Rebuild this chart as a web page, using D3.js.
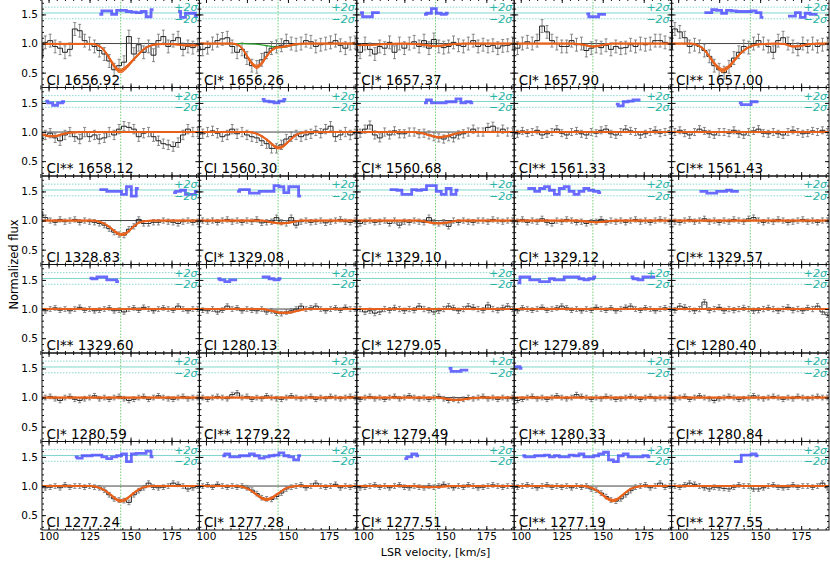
<!DOCTYPE html>
<html><head><meta charset="utf-8">
<script src="https://cdn.jsdelivr.net/npm/d3@7"></script>
<style>body{margin:0;background:#fff}svg{display:block;font-family:"DejaVu Sans",sans-serif}</style>
</head><body><svg id="c" width="830" height="561"></svg>
<script>
// ---------------- DATA ----------------
const lineLabels = [
 "CI 1656.92","CI* 1656.26","CI* 1657.37","CI* 1657.90","CI** 1657.00",
 "CI** 1658.12","CI 1560.30","CI* 1560.68","CI** 1561.33","CI** 1561.43",
 "CI 1328.83","CI* 1329.08","CI* 1329.10","CI* 1329.12","CI** 1329.57",
 "CI** 1329.60","CI 1280.13","CI* 1279.05","CI* 1279.89","CI* 1280.40",
 "CI* 1280.59","CI** 1279.22","CI** 1279.49","CI** 1280.33","CI** 1280.84",
 "CI 1277.24","CI* 1277.28","CI* 1277.51","CI** 1277.19","CI** 1277.55"];
const velocities = [95,98,101,104,107,110,113,116,119,122,125,128,131,134,137,140,143,146,149,152,155,158,161,164,167,170,173,176,179,182,185,188,191];
const xTickValues = [100,125,150,175];
const yTickValues = [0.5,1.0,1.5];
const systemVelocity = 144;
const sigmaLevels = [1.625,1.525,1.425];
const fluxErrors = [0.11,0.11,0.11,0.11,0.11, 0.08,0.08,0.07,0.06,0.06, 0.045,0.045,0.045,0.045,0.045,
  0.04,0.04,0.045,0.04,0.045, 0.04,0.04,0.04,0.04,0.04, 0.04,0.04,0.04,0.04,0.04];
const fluxes = [
 [0.75,1.02,1.05,0.95,0.92,0.85,0.9,1.25,1.22,1.05,1.0,0.95,0.88,0.82,0.7,0.55,0.62,0.68,1.12,0.82,0.98,0.85,0.95,0.8,1.05,1.12,0.95,1.05,1.1,0.9,0.95,0.93,0.97],
 [0.95,0.9,0.93,1.0,1.05,1.08,1.1,0.95,0.85,0.9,0.75,0.62,0.6,0.72,0.85,0.92,0.95,0.97,1.05,1.0,0.98,1.0,1.05,1.03,0.95,0.98,1.0,1.02,1.05,0.97,0.92,1.0,1.02],
 [1.05,0.85,1.0,0.9,0.82,0.95,0.92,1.02,0.85,1.0,0.92,1.0,1.03,0.95,1.05,0.92,1.07,0.95,0.93,0.95,1.02,0.97,0.95,1.0,1.05,0.95,0.98,0.95,0.97,0.92,0.96,0.97,1.0],
 [0.95,0.92,1.0,1.03,1.0,1.05,1.3,1.2,1.05,1.0,0.95,0.95,1.05,0.98,1.0,0.88,0.92,0.95,0.93,0.97,0.9,0.95,0.92,0.93,0.98,0.95,1.0,0.98,1.0,1.05,1.05,1.02,1.0],
 [0.9,1.25,1.2,1.1,0.95,0.98,0.95,0.88,0.78,0.62,0.55,0.5,0.6,0.75,0.85,0.95,0.93,1.0,1.05,1.0,0.95,0.85,1.05,1.1,1.0,0.95,0.9,1.0,0.95,1.0,0.95,0.98,1.0],
 [0.85,0.95,0.98,0.9,0.85,0.95,1.0,0.92,0.88,1.0,0.92,0.95,0.88,0.9,1.0,0.95,1.05,1.1,1.08,1.05,0.92,0.98,1.0,0.92,0.85,0.8,0.78,0.75,0.82,0.95,1.05,1.0,1.0],
 [0.95,0.97,1.0,1.02,0.98,0.92,0.95,1.05,0.97,1.0,0.95,0.92,0.9,0.85,0.8,0.72,0.72,0.78,0.88,0.92,0.95,0.92,0.95,0.97,1.02,0.98,1.05,1.1,0.92,0.95,1.0,0.95,0.97],
 [1.05,0.98,1.05,1.12,0.95,0.9,1.0,0.95,1.02,0.97,0.97,1.0,1.0,0.97,0.98,0.95,0.92,0.9,0.88,0.92,0.9,0.95,0.97,1.0,1.05,1.0,1.0,1.08,1.1,1.0,1.05,1.0,1.0],
 [1.0,0.97,1.02,0.98,1.0,1.03,0.95,0.97,1.0,1.05,0.98,0.95,1.0,1.02,0.97,0.95,1.0,0.98,1.03,1.05,0.97,0.95,1.0,1.05,1.02,1.0,0.95,0.97,1.0,1.03,0.98,1.0,1.02],
 [0.97,1.0,1.03,0.98,0.95,1.0,1.05,1.02,0.97,0.95,1.0,1.0,0.98,1.03,0.97,0.95,1.0,1.02,1.05,0.98,0.97,1.0,0.97,0.95,1.0,1.03,1.0,0.97,0.98,1.02,1.0,1.03,1.0],
 [1.15,1.05,1.0,0.97,1.02,0.98,1.0,1.02,0.97,1.0,0.98,0.97,0.95,0.92,0.86,0.8,0.76,0.75,0.85,0.9,1.02,0.95,0.95,0.97,0.97,1.0,0.98,0.97,0.95,0.98,1.0,0.97,0.98],
 [0.97,1.0,0.98,1.0,0.97,1.0,1.02,0.98,1.0,0.97,1.0,0.98,1.02,0.96,0.97,0.98,1.05,0.97,0.95,1.05,0.92,0.98,1.0,0.97,0.98,1.0,0.96,0.98,1.0,1.02,0.98,0.97,1.0],
 [0.97,0.95,0.98,1.0,0.97,0.98,1.0,0.95,1.0,0.92,0.98,0.97,1.0,0.98,0.97,1.05,0.97,0.95,0.97,0.9,1.0,0.97,1.0,0.98,0.97,1.0,1.0,0.98,1.02,1.0,0.98,1.0,1.0],
 [1.0,0.98,1.02,0.97,1.0,0.98,1.03,0.97,0.95,1.0,0.98,1.02,1.0,0.97,0.98,0.95,0.97,0.98,1.02,0.97,1.0,0.98,1.0,0.97,1.0,1.02,0.98,1.0,0.97,1.0,1.02,1.0,0.98],
 [1.0,0.98,0.97,1.0,1.02,0.98,1.0,1.03,0.98,1.0,0.97,1.0,0.98,1.02,1.0,0.98,1.03,1.05,1.0,0.97,1.0,0.98,1.02,1.0,0.97,0.98,1.0,1.02,0.98,1.0,0.97,1.0,1.0],
 [1.0,0.97,1.0,1.02,0.98,1.0,0.97,1.0,1.03,0.98,1.0,0.97,0.98,1.0,1.02,0.97,0.98,0.95,1.0,1.02,0.98,1.03,1.0,0.97,1.0,1.02,1.0,0.98,1.05,1.0,0.97,1.0,1.0],
 [1.0,0.98,0.97,1.0,0.95,0.98,1.05,1.0,1.02,0.97,1.0,0.98,0.97,1.0,0.95,0.97,0.93,0.92,0.95,0.97,1.0,1.05,1.0,1.02,1.05,1.0,0.97,1.0,1.02,0.98,1.03,1.0,1.0],
 [0.97,1.0,0.95,0.97,0.93,0.95,1.0,0.98,1.02,1.0,0.97,1.0,0.98,1.05,1.0,0.98,0.95,0.97,1.0,1.05,1.02,0.97,1.0,1.05,1.03,1.0,0.98,1.07,1.0,0.98,1.02,1.05,1.0],
 [1.0,0.97,1.02,1.0,0.98,1.0,1.03,0.98,1.0,1.02,1.05,1.02,0.98,1.0,0.97,1.0,0.98,1.03,1.0,0.98,1.02,0.97,1.0,1.03,1.05,1.0,0.98,1.02,1.0,0.97,1.0,1.02,1.0],
 [1.0,0.98,1.05,1.03,1.0,0.97,1.0,1.12,0.98,1.0,1.03,0.97,1.0,0.98,1.0,1.02,1.0,0.97,0.98,1.0,1.02,1.0,0.97,1.0,1.03,0.98,1.0,0.97,1.02,1.0,1.05,0.95,0.9],
 [0.97,1.0,1.02,0.98,0.95,1.0,1.02,0.97,0.95,0.98,1.0,1.03,0.98,1.0,0.97,1.0,1.02,0.98,0.95,0.97,1.0,1.02,0.97,1.0,1.03,1.0,0.98,0.97,1.0,1.02,0.98,1.0,1.0],
 [0.98,1.0,0.97,1.0,1.02,1.0,0.98,1.05,1.08,1.0,1.02,0.97,1.0,0.98,1.03,1.0,0.98,0.97,1.0,1.03,1.0,0.98,1.0,1.02,0.97,1.0,0.98,1.02,1.0,0.98,1.0,1.02,1.0],
 [1.0,0.97,1.0,1.02,0.98,1.0,0.97,1.0,1.02,0.98,1.0,1.03,1.0,0.98,1.0,0.97,1.0,1.02,0.98,0.95,0.97,0.95,0.97,1.0,0.98,1.0,1.02,0.98,1.0,0.97,1.0,0.98,1.0],
 [0.97,0.95,0.97,1.0,1.02,0.98,1.0,0.97,1.0,1.03,1.0,0.98,1.0,1.05,1.02,1.0,0.97,1.0,0.98,1.02,1.0,0.97,0.98,1.0,1.02,1.0,0.97,1.0,1.02,0.98,1.0,1.0,1.0],
 [1.0,0.98,1.0,1.02,0.97,1.0,1.03,1.0,0.98,0.95,0.98,1.0,1.02,1.0,0.97,0.98,1.0,1.03,1.0,0.98,1.0,1.02,1.0,0.97,1.0,0.98,1.02,1.0,0.98,1.0,1.02,1.0,1.0],
 [0.98,0.97,0.98,1.0,0.97,1.02,0.98,1.0,1.0,0.98,1.0,0.98,0.97,0.93,0.85,0.78,0.76,0.75,0.72,0.85,0.92,0.97,1.05,0.98,0.97,0.98,1.0,1.05,1.03,1.0,0.95,0.97,1.0],
 [0.97,1.0,1.02,0.98,1.03,1.0,0.98,1.0,0.98,1.0,0.97,0.93,0.87,0.8,0.78,0.77,0.82,0.88,0.95,0.98,1.0,1.02,0.97,1.0,1.05,1.0,0.98,1.0,1.03,0.97,1.0,0.98,1.0],
 [1.0,0.97,0.98,1.0,1.02,0.98,1.0,0.97,1.0,1.02,0.98,0.97,1.0,0.98,0.97,1.0,0.98,1.0,1.03,1.0,0.97,1.0,0.98,1.02,1.0,0.97,0.98,1.0,1.02,1.0,0.98,1.0,1.0],
 [1.0,0.98,1.0,1.02,1.0,0.97,1.0,1.02,0.98,1.0,0.98,1.0,0.97,1.0,0.98,1.0,0.95,0.93,0.88,0.82,0.76,0.74,0.78,0.85,0.92,0.98,1.0,1.02,0.97,1.0,1.05,0.98,1.0],
 [0.98,1.0,0.98,1.02,1.05,1.03,1.0,0.97,0.95,0.98,0.97,0.96,0.95,0.98,1.02,1.0,1.0,0.95,0.95,0.97,1.0,1.02,0.98,0.97,0.98,1.02,0.98,1.0,1.0,0.98,1.0,1.05,0.97]
];
// fitted model, as [velocity, flux] knots
const fitKnots = [
 [[90,0.995],[126,0.995],[130,0.97],[133,0.91],[136,0.8],[139,0.66],[142,0.55],[144,0.53],[147,0.58],[151,0.7],[155,0.82],[159,0.92],[163,0.97],[168,0.99],[176,0.99],[183,0.97],[190,0.97],[196,0.98]],
 [[90,1],[116,1],[120,0.97],[123,0.88],[126,0.74],[129,0.63],[131,0.6],[134,0.66],[137,0.78],[140,0.88],[143,0.93],[146,0.94],[150,0.96],[155,0.99],[160,1],[196,1]],
 [[90,0.985],[96,0.975],[104,0.975],[112,0.99],[125,1],[133,0.99],[139,0.97],[144,0.955],[149,0.97],[155,0.99],[162,1],[196,1]],
 [[90,1],[132,1],[138,0.98],[144,0.95],[150,0.975],[156,1],[196,1]],
 [[90,1],[108,1],[112,0.97],[116,0.89],[119,0.78],[122,0.66],[125,0.57],[127,0.54],[130,0.58],[134,0.7],[138,0.83],[142,0.92],[146,0.97],[151,0.99],[160,1],[165,0.99],[170,0.95],[175,0.96],[180,0.99],[186,1],[196,1]],
 [[90,0.97],[96,0.96],[100,0.93],[104,0.93],[108,0.96],[113,0.99],[120,1],[196,1]],
 [[90,1],[126,1],[130,0.98],[134,0.93],[137,0.87],[140,0.8],[142,0.75],[144,0.73],[146,0.74],[149,0.8],[152,0.88],[155,0.95],[159,0.99],[164,1],[196,1]],
 [[90,1],[130,1],[136,0.98],[141,0.94],[146,0.91],[151,0.93],[156,0.97],[162,1],[196,1]],
 [[90,1],[196,1]],
 [[90,1],[196,1]],
 [[90,1],[127,1],[131,0.98],[135,0.93],[138,0.87],[141,0.8],[144,0.76],[146,0.765],[149,0.82],[152,0.9],[155,0.96],[159,0.99],[164,1],[196,1]],
 [[90,1],[134,1],[140,0.97],[146,0.95],[152,0.97],[158,1],[196,1]],
 [[90,1],[134,1],[140,0.97],[146,0.95],[152,0.97],[158,1],[196,1]],
 [[90,1],[134,1],[140,0.985],[146,0.97],[152,0.985],[158,1],[196,1]],
 [[90,1],[196,1]],
 [[90,1],[196,1]],
 [[90,1],[134,1],[140,0.97],[146,0.935],[151,0.94],[156,0.97],[162,1],[196,1]],
 [[90,1],[196,1]],
 [[90,1],[196,1]],
 [[90,1],[196,1]],
 [[90,1],[196,1]],
 [[90,1],[196,1]],
 [[90,1],[145,1],[150,0.98],[155,0.96],[160,0.965],[166,0.99],[172,1],[196,1]],
 [[90,1],[196,1]],
 [[90,1],[196,1]],
 [[90,1],[126,1],[130,0.98],[134,0.93],[137,0.87],[140,0.8],[142,0.76],[144,0.745],[146,0.755],[149,0.81],[152,0.88],[155,0.94],[158,0.98],[163,1],[196,1]],
 [[90,1],[119,1],[123,0.98],[127,0.93],[130,0.87],[133,0.81],[135,0.78],[137,0.77],[139,0.78],[142,0.83],[145,0.89],[148,0.95],[151,0.98],[156,1],[196,1]],
 [[90,1],[130,1],[137,0.985],[142,0.98],[148,0.99],[154,1],[196,1]],
 [[90,1],[138,1],[142,0.98],[146,0.93],[149,0.87],[152,0.8],[154,0.77],[156,0.75],[158,0.76],[161,0.82],[164,0.89],[167,0.95],[170,0.98],[175,1],[196,1]],
 [[90,1],[196,1]]
];
// extra single component (green) where shown
const componentKnots = {1: [[90,1],[122,1],[130,0.99],[136,0.97],[142,0.94],[146,0.93],[150,0.95],[155,0.98],[160,1],[196,1]]};
// residual segments: [start index into velocities, values]
const residuals = [
 [[12,[1.5,1.56,1.56,1.5,1.57,1.57,1.55,1.54,1.53,1.55,1.46,1.58]],[28,[1.55,1.45,1.52,1.52,1.47]]],
 [],
 [[1,[1.53,1.46,1.46,1.53,1.53]],[14,[1.5,1.52,1.6,1.52,1.5,1.52]]],
 [[15,[1.51,1.46,1.46,1.5,1.5]]],
 [[7,[1.53,1.53,1.58,1.57,1.52,1.57,1.56,1.55,1.55,1.55,1.56,1.53,1.45]],[24,[1.47,1.47,1.53,1.45,1.52,1.5,1.5]]],
 [[1,[1.53,1.5,1.46,1.5,1.52]]],
 [[13,[1.56,1.53,1.52,1.5,1.53,1.56]]],
 [[14,[1.5,1.55,1.5,1.5,1.5,1.52,1.52,1.57,1.5,1.52,1.5]]],
 [[21,[1.48,1.45,1.52,1.53,1.55,1.55]]],
 [[14,[1.5,1.47,1.47,1.52,1.52]]],
 [[12,[1.53,1.53,1.5,1.5,1.5,1.45,1.58,1.42,1.55]],[27,[1.48,1.5,1.52,1.45,1.45,1.5]]],
 [[8,[1.5,1.53,1.53,1.47,1.47,1.5,1.5,1.5,1.6,1.58,1.48,1.58,1.58,1.42]]],
 [[7,[1.53,1.53,1.52,1.45,1.45,1.53,1.52,1.53,1.6,1.6,1.5,1.45,1.55,1.45,1.52]]],
 [[3,[1.55,1.55,1.5,1.55,1.58,1.52,1.45,1.55,1.58,1.5,1.45,1.5,1.55,1.52,1.5,1.48]]],
 [[6,[1.5,1.5,1.47,1.47,1.5,1.5,1.52,1.5,1.5]]],
 [[10,[1.53,1.52,1.55,1.55,1.5,1.5,1.47]]],
 [[4,[1.52,1.5,1.47,1.5,1.5]],[13,[1.55,1.55,1.52,1.5,1.52]]],
 [],
 [[1,[1.45,1.55,1.55,1.5,1.5,1.47,1.47,1.52,1.5,1.5,1.55,1.55,1.55,1.52,1.5,1.52,1.55]],[24,[1.55,1.52,1.5,1.55,1.55,1.55]]],
 [],
 [],
 [],
 [[19,[1.5,1.45,1.45,1.47,1.47]]],
 [[0,[1.53,1.53,1.5]]],
 [],
 [[7,[1.5,1.48,1.52,1.52,1.53,1.53,1.5,1.47,1.5,1.52,1.55,1.42,1.55,1.56,1.56,1.6,1.5]]],
 [[5,[1.52,1.55,1.5,1.5,1.52,1.52,1.55,1.52,1.48,1.5,1.52,1.53,1.57,1.52,1.5,1.45,1.52]]],
 [[10,[1.47,1.5,1.55,1.52]]],
 [[2,[1.52,1.5,1.5,1.52,1.52,1.53,1.5,1.52,1.5,1.5,1.53,1.52,1.55,1.5,1.5,1.52,1.55,1.58,1.45,1.42,1.52,1.55,1.5,1.5,1.5,1.52,1.5]]],
 [[13,[1.42,1.42,1.53,1.53,1.55,1.52]]]
];

// ---------------- LAYOUT ----------------
const colLeft0 = 42, colW = 157.4, rowTop0 = -1, rowH = 88.5;
const xDomain = [96,192], yDomain = [0.245,1.765];
const svg = d3.select('#c');
const defs = svg.append('defs');
const x = d3.scaleLinear().domain(xDomain).range([0,colW]);
const y = d3.scaleLinear().domain(yDomain).range([rowH,0]);
const xMinor = d3.range(95,195,5), yMinor = d3.range(0.3,1.75,0.1);

const stepLine = d3.line().x(d=>x(d[0])).y(d=>y(d[1])).curve(d3.curveStep);
const smooth = d3.line().x(d=>x(d[0])).y(d=>y(d[1])).curve(d3.curveMonotoneX);
const band = d3.area().x(d=>x(d[0]))
  .y0(d=>y(d[1]-0.008-0.05*(1-d[1]))).y1(d=>y(d[1]+0.008+0.05*(1-d[1]))).curve(d3.curveMonotoneX);

lineLabels.forEach((lab,p)=>{
  const r = Math.floor(p/5), c = p%5;
  const x0 = colLeft0 + c*colW, y0 = rowTop0 + r*rowH;
  defs.append('clipPath').attr('id','cp'+p).append('rect').attr('width',colW).attr('height',rowH);
  const g = svg.append('g').attr('transform',`translate(${x0},${y0})`);
  const pl = g.append('g').attr('clip-path',`url(#cp${p})`);

  // sigma guide lines
  sigmaLevels.forEach((lv,k)=>{
    pl.append('line').attr('x1',0).attr('x2',colW).attr('y1',y(lv)).attr('y2',y(lv))
      .attr('stroke', k===1 ? '#7fd6cc' : '#8ad9d0').attr('stroke-width',1)
      .attr('stroke-dasharray', k===1 ? null : '1.5,1.5');
  });
  // systemic velocity
  pl.append('line').attr('x1',x(systemVelocity)).attr('x2',x(systemVelocity)).attr('y1',0).attr('y2',rowH)
    .attr('stroke','#66cc66').attr('stroke-width',0.9).attr('stroke-dasharray','1.5,1.5');
  // continuum
  pl.append('line').attr('x1',0).attr('x2',colW).attr('y1',y(1)).attr('y2',y(1))
    .attr('stroke','#444').attr('stroke-width',1);

  // error bars
  const fl = fluxes[p], e = fluxErrors[p];
  const eb = pl.append('g').attr('stroke','#7a7a7a').attr('stroke-width',0.9);
  fl.forEach((f,i)=>{
    const vx = x(velocities[i]);
    eb.append('line').attr('x1',vx).attr('x2',vx).attr('y1',y(f-e)).attr('y2',y(f+e));
    eb.append('line').attr('x1',vx-1.5).attr('x2',vx+1.5).attr('y1',y(f-e)).attr('y2',y(f-e));
    eb.append('line').attr('x1',vx-1.5).attr('x2',vx+1.5).attr('y1',y(f+e)).attr('y2',y(f+e));
  });
  // data steps
  pl.append('path').attr('d',stepLine(fl.map((f,i)=>[velocities[i],f])))
    .attr('fill','none').attr('stroke','#222').attr('stroke-width',1);

  // residuals
  residuals[p].forEach(([s,vals])=>{
    pl.append('path').attr('d',stepLine(vals.map((v,i)=>[velocities[s+i],v])))
      .attr('fill','none').attr('stroke','#4646ff').attr('stroke-opacity',0.8).attr('stroke-width',2.8);
  });

  // component
  if (componentKnots[p]) {
    pl.append('path').attr('d',smooth(componentKnots[p])).attr('fill','none')
      .attr('stroke','#2ca02c').attr('stroke-width',1.3);
  }
  // fit band + line
  const fk = fitKnots[p];
  pl.append('path').attr('d',band(fk)).attr('fill','#efa25a').attr('stroke','#e8601a').attr('stroke-width',1);
  pl.append('path').attr('d',smooth(fk)).attr('fill','none').attr('stroke','#e8601a').attr('stroke-width',1.7);

  // sigma labels
  [['+2σ',sigmaLevels[0]],['\u22122σ',sigmaLevels[2]]].forEach(([t,lv])=>{
    g.append('text').attr('x',colW-2).attr('y',y(lv)).attr('dy','0.36em')
      .attr('text-anchor','end').attr('font-size',11).attr('font-style','italic')
      .attr('fill','#2ab3a6').text(t);
  });
  // line label
  g.append('text').attr('x',4.5).attr('y',rowH-3).attr('font-size',13.5).attr('fill','#000').text(lab);

  // spines
  g.append('rect').attr('width',colW).attr('height',rowH).attr('fill','none')
    .attr('stroke','#111').attr('stroke-width',1);

  // ticks
  const clean = s => { s.select('.domain').remove(); s.selectAll('line').attr('stroke','#111'); };
  g.append('g').attr('transform',`translate(0,${rowH})`)
    .call(d3.axisBottom(x).tickValues(xTickValues).tickSize(-4).tickPadding(3)
      .tickFormat(r===5 ? d3.format('d') : ''))
    .call(clean).call(s=>s.selectAll('text').attr('font-size',10.5).attr('font-family','DejaVu Sans').attr('fill','#000'));
  g.append('g').attr('transform',`translate(0,${rowH})`)
    .call(d3.axisBottom(x).tickValues(xMinor).tickSize(-2).tickFormat('')).call(clean);
  g.append('g').call(d3.axisTop(x).tickValues(xTickValues).tickSize(-4).tickFormat('')).call(clean);
  g.append('g').call(d3.axisTop(x).tickValues(xMinor).tickSize(-2).tickFormat('')).call(clean);
  g.append('g')
    .call(d3.axisLeft(y).tickValues(yTickValues).tickSize(-4).tickPadding(4)
      .tickFormat(c===0 ? d3.format('.1f') : ''))
    .call(clean).call(s=>s.selectAll('text').attr('font-size',10.5).attr('font-family','DejaVu Sans').attr('fill','#000'));
  g.append('g').call(d3.axisLeft(y).tickValues(yMinor).tickSize(-2).tickFormat('')).call(clean);
  g.append('g').attr('transform',`translate(${colW},0)`)
    .call(d3.axisRight(y).tickValues(yTickValues).tickSize(-4).tickFormat('')).call(clean);
  g.append('g').attr('transform',`translate(${colW},0)`)
    .call(d3.axisRight(y).tickValues(yMinor).tickSize(-2).tickFormat('')).call(clean);
});

// axis titles
svg.append('text').attr('x',colLeft0+2.5*colW).attr('y',556).attr('text-anchor','middle')
  .attr('font-size',11).text('LSR velocity, [km/s]');
svg.append('text').attr('transform',`translate(18,${rowTop0+3*rowH}) rotate(-90)`)
  .attr('text-anchor','middle').attr('font-size',11.5).text('Normalized flux');
</script></body></html>
